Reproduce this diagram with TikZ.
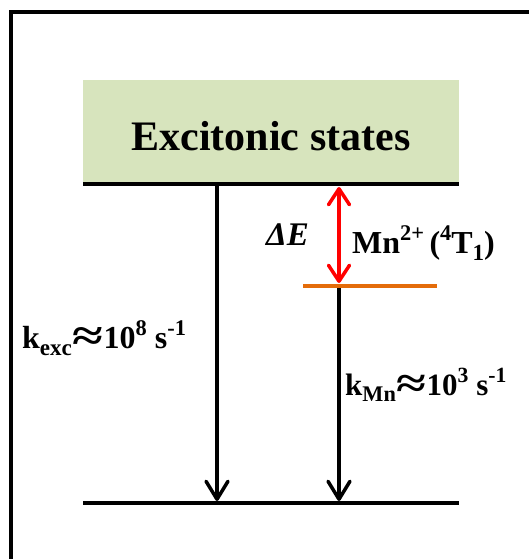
\documentclass[tikz,border=0pt]{standalone}
\usepackage{fontspec}
\usepackage{graphicx}
\setmainfont{Liberation Serif}
\usetikzlibrary{arrows.meta}
\definecolor{boxgreen}{HTML}{D7E4BD}
\definecolor{lvlorange}{HTML}{E46C0A}
\newcommand\upidx[1]{\raisebox{0.40em}{\scalebox{0.7}{#1}}}
\newcommand\lowidx[1]{\raisebox{-0.22em}{\scalebox{0.72}{#1}}}
\newcommand\bigapprox{\kern1pt\raisebox{-0.08em}{\scalebox{1.75}[1.35]{≈}}}
\tikzset{
  level/.style={line width=4.5pt},
  decay/.style={line width=3.5pt, -{Straight Barb[length=18pt,width=22pt,line width=3.5pt,round]}},
  gap/.style={red, line width=3.5pt, {Straight Barb[length=16pt,width=21pt,line width=3.5pt,round]}-{Straight Barb[length=16pt,width=21pt,line width=3.5pt,round]}},
  lbl/.style={anchor=base west, inner sep=0pt, font=\fontsize{32}{38}\selectfont\bfseries},
}
\begin{document}
\begin{tikzpicture}[x=1pt,y=-1pt]
\useasboundingbox (0,0) rectangle (529,559);
\draw[line width=4pt] (11,559) -- (11,12) -- (529,12);
\node[fill=boxgreen, minimum width=376pt, minimum height=105pt, anchor=north west, inner sep=0pt] (box) at (83,80) {};
\node[anchor=base, inner sep=0pt, font=\fontsize{42}{50}\selectfont\bfseries] (title) at (271,150) {Excitonic states};
\coordinate (exL) at (83,184);
\coordinate (exR) at (459,184);
\coordinate (mnL) at (303,286);
\coordinate (mnR) at (437,286);
\coordinate (gL) at (83,503);
\coordinate (gR) at (459,503);
\draw[level] (exL) -- (exR);
\draw[lvlorange, level] (mnL) -- (mnR);
\draw[level] (gL) -- (gR);
\coordinate (a1s) at (217,186);
\coordinate (a1e) at (217,501);
\coordinate (a2s) at (339,288);
\coordinate (a2e) at (339,501);
\coordinate (rs) at (339,187);
\coordinate (re) at (339,283);
\draw[decay] (a1s) -- (a1e);
\draw[decay] (a2s) -- (a2e);
\draw[gap] (rs) -- (re);
\node[anchor=base west, inner sep=0pt, font=\fontsize{33}{40}\selectfont\bfseries\itshape] (dE) at (266,245) {ΔE};
\node[lbl] (mn) at (352,253) {Mn\upidx{2+}\,(\upidx{4}T\lowidx{1})};
\node[lbl] (kexc) at (22,348) {k\lowidx{exc}\bigapprox10\upidx{8} s\upidx{-1}};
\node[lbl, font=\fontsize{31}{38}\selectfont\bfseries] (kmn) at (345,395) {k\lowidx{Mn}\bigapprox10\upidx{3} s\upidx{-1}};
\end{tikzpicture}
\end{document}
